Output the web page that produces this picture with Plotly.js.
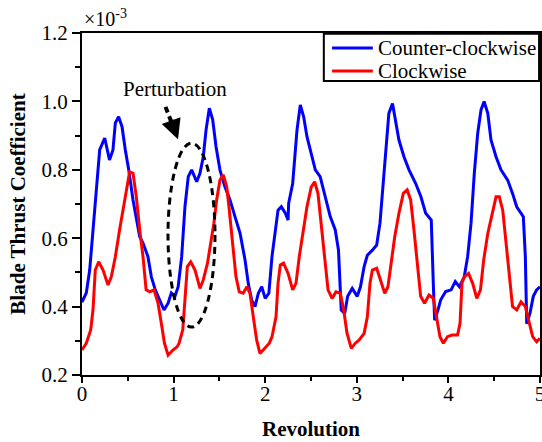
<!DOCTYPE html>
<html>
<head>
<meta charset="utf-8">
<script src="https://cdn.plot.ly/plotly-3.0.1.min.js"></script>
<style>
  html, body { margin: 0; padding: 0; background: #ffffff; }
  #chart { width: 542px; height: 442px; }
</style>
</head>
<body>
<div id="chart"></div>
<script>
// Blade thrust coefficient (x10^-3) over five rotor revolutions
const ccwRev = [0.00,0.047,0.084,0.12,0.156,0.193,0.248,0.30,0.338,0.364,0.40,0.437,0.473,0.51,0.557,0.593,0.63,0.666,0.72,0.757,0.80,0.848,0.895,0.94,0.975,
  1.015,1.05,1.088,1.124,1.16,1.197,1.252,1.288,1.324,1.354,1.39,1.427,1.463,1.506,1.561,1.616,1.67,1.725,1.78,1.815,1.853,1.889,1.925,1.962,
  2.0,2.04,2.074,2.11,2.14,2.176,2.22,2.25,2.256,2.30,2.32,2.347,2.383,2.42,2.456,2.50,2.547,2.60,2.656,2.71,2.765,2.80,2.83,2.868,2.90,2.95,
  3.005,3.04,3.08,3.115,3.17,3.217,3.253,3.28,3.315,3.35,3.39,3.425,3.46,3.515,3.57,3.643,3.70,3.752,3.813,3.835,3.85,3.886,3.915,3.97,
  4.03,4.075,4.12,4.173,4.21,4.247,4.283,4.32,4.356,4.39,4.43,4.465,4.52,4.574,4.647,4.70,4.746,4.818,4.84,4.855,4.89,4.927,4.963,5.0];
const ccwThrust = [0.413,0.44,0.507,0.615,0.74,0.858,0.893,0.829,0.858,0.937,0.955,0.926,0.858,0.80,0.712,0.663,0.604,0.586,0.546,0.487,0.449,0.419,0.39,0.41,0.44,
  0.43,0.458,0.546,0.692,0.78,0.80,0.765,0.79,0.838,0.916,0.98,0.946,0.868,0.80,0.75,0.712,0.663,0.615,0.536,0.468,0.419,0.40,0.439,0.458,
  0.424,0.439,0.546,0.624,0.682,0.692,0.673,0.653,0.702,0.76,0.838,0.916,0.99,0.955,0.897,0.848,0.80,0.78,0.721,0.663,0.624,0.565,0.39,0.38,0.43,0.453,
  0.43,0.458,0.517,0.55,0.565,0.58,0.644,0.74,0.868,0.965,0.994,0.946,0.887,0.838,0.80,0.76,0.721,0.673,0.653,0.468,0.36,0.39,0.419,0.444,
  0.449,0.473,0.458,0.487,0.546,0.644,0.79,0.907,0.975,1.0,0.965,0.887,0.838,0.80,0.77,0.731,0.692,0.663,0.546,0.35,0.38,0.43,0.449,0.458];

const cwRev = [0.00,0.047,0.095,0.12,0.145,0.182,0.23,0.284,0.32,0.364,0.41,0.448,0.484,0.52,0.557,0.593,0.63,0.666,0.70,0.74,0.786,0.83,0.866,0.90,0.94,0.993,
  1.04,1.06,1.10,1.124,1.15,1.187,1.234,1.288,1.324,1.37,1.405,1.44,1.47,1.506,1.543,1.58,1.608,1.645,1.681,1.717,1.76,1.80,1.834,1.87,1.907,1.943,1.998,
  2.045,2.074,2.118,2.14,2.165,2.20,2.25,2.30,2.336,2.372,2.41,2.456,2.503,2.54,2.576,2.612,2.65,2.686,2.73,2.773,2.82,2.857,2.893,2.94,2.984,
  3.024,3.08,3.115,3.144,3.17,3.217,3.26,3.305,3.34,3.377,3.414,3.46,3.508,3.55,3.588,3.624,3.66,3.697,3.74,3.788,3.835,3.87,3.908,3.945,3.99,
  4.04,4.10,4.127,4.148,4.173,4.22,4.265,4.31,4.35,4.385,4.43,4.476,4.52,4.556,4.593,4.63,4.665,4.70,4.746,4.793,4.84,4.883,4.92,4.963,5.0];
const cwThrust = [0.273,0.293,0.332,0.39,0.507,0.531,0.507,0.463,0.487,0.546,0.624,0.682,0.741,0.794,0.79,0.721,0.624,0.546,0.449,0.443,0.449,0.41,0.351,0.293,0.258,0.273,
  0.283,0.293,0.332,0.419,0.517,0.531,0.507,0.453,0.478,0.527,0.585,0.644,0.712,0.77,0.785,0.75,0.682,0.585,0.487,0.443,0.439,0.458,0.439,0.37,0.302,0.263,0.278,
  0.293,0.312,0.37,0.468,0.522,0.527,0.497,0.449,0.468,0.546,0.614,0.692,0.75,0.765,0.731,0.644,0.546,0.449,0.424,0.443,0.439,0.39,0.322,0.278,0.293,
  0.302,0.322,0.37,0.468,0.507,0.512,0.478,0.439,0.458,0.536,0.604,0.673,0.731,0.741,0.712,0.624,0.536,0.43,0.41,0.434,0.424,0.37,0.312,0.293,0.312,
  0.317,0.317,0.351,0.468,0.487,0.497,0.468,0.424,0.449,0.536,0.614,0.673,0.721,0.721,0.682,0.585,0.487,0.40,0.39,0.414,0.40,0.351,0.312,0.297,0.307];

const seriesNames = ['Counter-clockwise', 'Clockwise'];
const seriesColors = ['#0000ff', '#ff0000'];
const yTicks = [0.2, 0.4, 0.6, 0.8, 1.0, 1.2];
const xTicks = [0, 1, 2, 3, 4, 5];

const FONT = 'Liberation Serif, Times New Roman, serif';

const traces = [
  { x: ccwRev, y: ccwThrust, name: seriesNames[0], mode: 'lines',
    line: { color: seriesColors[0], width: 3 } },
  { x: cwRev, y: cwThrust, name: seriesNames[1], mode: 'lines',
    line: { color: seriesColors[1], width: 3 } }
];

// Compact boxed legend in the top-right corner of the plot area
const legendBox = { x0: 0.528, x1: 0.998, y0: 0.860, y1: 0.998 };
const legendRows = [0.956, 0.889];
const legendShapes = [
  { type: 'rect', xref: 'paper', yref: 'paper', ...legendBox,
    fillcolor: '#ffffff', line: { color: '#000000', width: 2 } }
].concat(seriesNames.map((n, i) => ({
  type: 'line', xref: 'paper', yref: 'paper',
  x0: 0.546, x1: 0.635, y0: legendRows[i], y1: legendRows[i],
  line: { color: seriesColors[i], width: 3 }
})));
const legendLabels = seriesNames.map((n, i) => ({
  text: n, xref: 'paper', yref: 'paper', x: 0.643, y: legendRows[i],
  xanchor: 'left', yanchor: 'middle', showarrow: false,
  font: { family: FONT, size: 21, color: '#000000' }
}));

const layout = {
  width: 542, height: 442,
  margin: { l: 82, r: 2, t: 33, b: 67 },
  paper_bgcolor: '#ffffff', plot_bgcolor: '#ffffff',
  font: { family: FONT, size: 21, color: '#000000' },
  showlegend: false,
  xaxis: {
    range: [0, 5], tickvals: xTicks, ticktext: xTicks.map(String),
    showgrid: false, zeroline: false, ticklabeloverflow: 'allow',
    showline: true, linecolor: '#000000', linewidth: 2, mirror: true,
    ticks: 'outside', ticklen: 6, tickwidth: 2, tickcolor: '#000000',
    minor: { dtick: 0.5, tick0: 0, ticks: 'outside', ticklen: 4, tickwidth: 2, tickcolor: '#000000', showgrid: false },
    tickfont: { family: FONT, size: 21 }, ticklabelstandoff: -7,
    title: { text: 'Revolution', font: { family: FONT, size: 21, weight: 'bold' }, standoff: 16 }
  },
  yaxis: {
    range: [0.2, 1.2], tickvals: yTicks, ticktext: yTicks.map(v => v.toFixed(1)),
    showgrid: false, zeroline: false,
    showline: true, linecolor: '#000000', linewidth: 2, mirror: true,
    ticks: 'outside', ticklen: 8, tickwidth: 2, tickcolor: '#000000',
    minor: { dtick: 0.1, tick0: 0.2, ticks: 'outside', ticklen: 5, tickwidth: 2, tickcolor: '#000000', showgrid: false },
    tickfont: { family: FONT, size: 21 },
    title: { text: 'Blade Thrust Coefficient', font: { family: FONT, size: 21, weight: 'bold' }, standoff: 10 }
  },
  shapes: [
    // dashed ellipse around the disturbed second revolution
    { type: 'circle', xref: 'x', yref: 'y', x0: 0.939, x1: 1.452, y0: 0.340, y1: 0.878,
      line: { color: '#000000', width: 3, dash: '7px,5px' } },
    // dashed shaft of the pointer arrow
    { type: 'line', xref: 'x', yref: 'y', x0: 0.912, y0: 0.984, x1: 0.975, y1: 0.94,
      line: { color: '#000000', width: 4, dash: '6px,4px' } }
  ].concat(legendShapes),
  annotations: [
    { text: '×10<sup>-3</sup>', xref: 'paper', yref: 'paper', x: 0, y: 1,
      xanchor: 'left', yanchor: 'bottom', yshift: 1, showarrow: false,
      font: { family: FONT, size: 20, color: '#000000' } },
    { text: 'Perturbation', xref: 'x', yref: 'y', x: 1.015, y: 1.036,
      xanchor: 'center', yanchor: 'middle', showarrow: false,
      font: { family: FONT, size: 21, color: '#000000' } },
    { text: '', xref: 'x', yref: 'y', x: 1.048, y: 0.889,
      axref: 'x', ayref: 'y', ax: 0.965, ay: 0.95,
      showarrow: true, arrowhead: 2, arrowsize: 0.8, arrowwidth: 5, arrowcolor: '#000000' }
  ].concat(legendLabels)
};

Plotly.newPlot('chart', traces, layout, { staticPlot: true, displayModeBar: false });
</script>
</body>
</html>
